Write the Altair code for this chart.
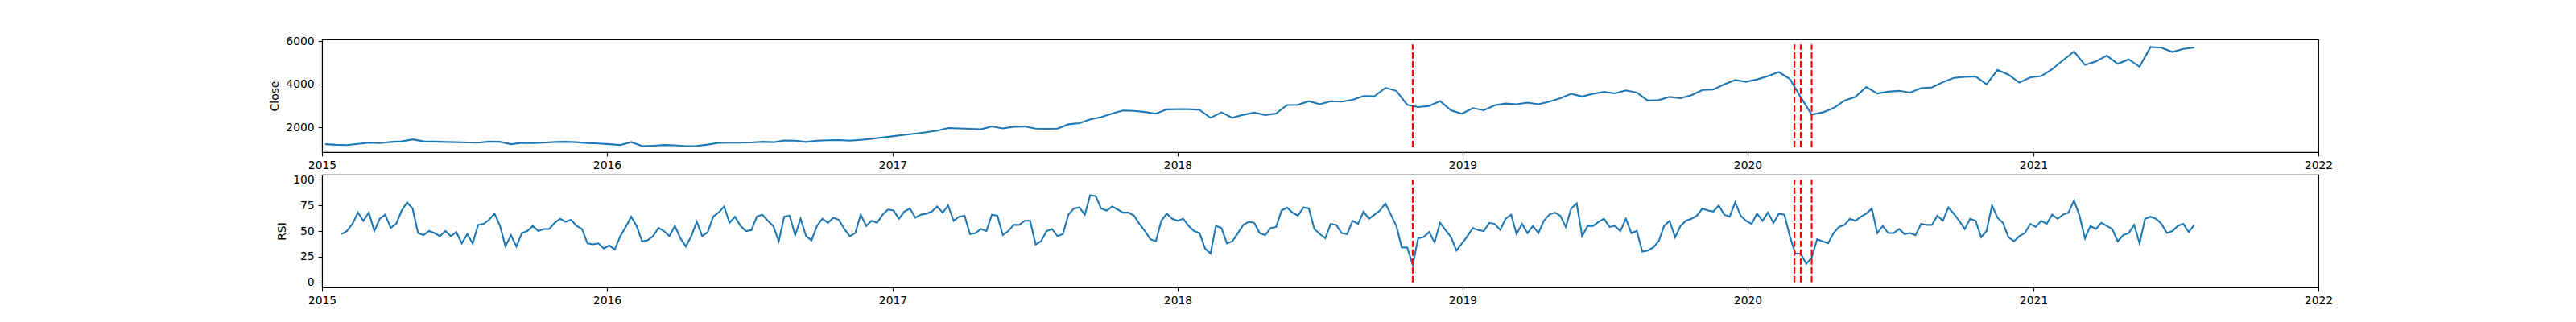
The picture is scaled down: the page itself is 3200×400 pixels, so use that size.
import altair as alt
import pandas as pd

# closing price, every two weeks from 2015-01-05
close_start = "2015-01-05"
close_values = [
    1230, 1200, 1185, 1240, 1300, 1280, 1330, 1360, 1450, 1360, 1350, 1330, 1320, 1310, 1300, 1350,
    1340, 1230, 1290, 1280, 1300, 1330, 1340, 1320, 1280, 1260, 1230, 1190, 1330, 1140, 1160,
    1190, 1175, 1140, 1150, 1210, 1290, 1300, 1300, 1310, 1340, 1320, 1400, 1390, 1330, 1390, 1410,
    1420, 1390, 1430, 1480, 1540, 1600, 1660, 1720, 1780, 1860, 1980, 1960, 1940, 1920, 2050,
    1960, 2040, 2050, 1950, 1940, 1950, 2150, 2200, 2380, 2480, 2650, 2790, 2770, 2720, 2640, 2840,
    2850, 2850, 2820, 2450, 2700, 2450, 2590, 2690, 2580, 2650, 3040, 3050, 3220, 3080, 3220,
    3200, 3280, 3460, 3450, 3840, 3700, 3050, 2950, 3000, 3230, 2800, 2640, 2900, 2800, 3030, 3110,
    3080, 3150, 3080, 3200, 3360, 3560, 3440, 3560, 3650, 3580, 3720, 3620, 3250, 3270, 3420,
    3360, 3500, 3740, 3760, 4000, 4200, 4120, 4230, 4380, 4570, 4250, 3400, 2600, 2700, 2900, 3250,
    3420, 3880, 3580, 3660, 3700, 3620, 3820, 3860, 4100, 4300, 4350, 4370, 4000, 4670, 4450,
    4080, 4330, 4380, 4700, 5120, 5520, 4900, 5060, 5330, 4950, 5160, 4820, 5730, 5700, 5500, 5640,
    5710,
]

# RSI, every week from 2015-01-26
rsi_start = "2015-01-26"
rsi_values = [
    47, 50, 57, 68, 60, 68, 50, 62, 66, 53, 57, 70, 78, 72, 48, 46, 50, 48, 45, 50, 45, 49, 38, 47,
    38, 56, 57, 61, 67, 55, 35, 46, 35, 48, 50, 55, 50, 52, 52, 58, 62, 59, 61, 55, 52, 38, 37, 38,
    33, 36, 32, 45, 54, 64, 55, 40, 41, 45,
    53, 50, 45, 55, 43, 35, 45, 59, 45, 49, 64, 68, 74, 58, 64, 55, 50, 51, 64, 66, 60, 55, 40, 64,
    65, 46, 62, 45, 41, 55, 62, 58, 63, 61, 52, 45, 48, 66, 55, 60, 58, 66, 71, 70, 62, 69, 72, 63,
    66, 67, 69, 74, 68, 75, 60, 64, 65, 47, 48, 52, 50, 66,
    65, 46, 50, 56, 56, 60, 60, 37, 40, 50, 52, 45, 47, 66, 72, 73, 66, 85, 84, 72, 70, 74, 71, 68,
    68, 65, 57, 50, 42, 40, 60, 67, 62, 60, 62, 55, 50, 48, 33, 28, 55, 53, 38, 40, 48, 56, 59, 58,
    48, 46, 53, 54, 70, 73, 68, 65, 73, 72, 52, 47, 43, 57,
    56, 48, 47, 60, 57, 69, 62, 66, 70, 77, 66, 55, 34, 34, 17, 43, 44, 49, 39, 58, 51, 44, 31, 38,
    45, 53, 51, 50, 58, 57, 51, 62, 66, 47, 57, 48, 55, 48, 60, 66, 68, 65, 54, 72, 77, 45, 55, 55,
    59, 62, 54, 55, 50, 62, 48, 50, 30, 31, 34, 40, 55, 60,
    44, 55, 60, 62, 65, 72, 70, 69, 75, 66, 64, 78, 65, 60, 57, 67, 60, 68, 58, 67, 66, 45, 28, 28,
    18, 24, 42, 40, 38, 48, 54, 56, 62, 60, 64, 67, 72, 48, 55, 48, 48, 52, 47, 48, 46, 57, 56, 56,
    65, 60, 73, 67, 60, 52, 62, 60, 44, 50, 75, 63, 58, 44,
    40, 45, 48, 57, 54, 60, 57, 66, 62, 66, 68, 80, 65, 43, 55, 52, 58, 55, 52, 40, 46, 48, 56, 38,
    62, 64, 62, 57, 48, 50, 55, 57, 49, 56,
]

# marked dates (red dashed lines) and the span of those lines in each panel
event_dates = ["2018-10-29", "2020-03-01", "2020-03-09", "2020-03-23"]
close_span = [1095, 5845]
rsi_span = [0, 100]

years = list(range(2015, 2023))
close_ticks = [2000, 4000, 6000]
rsi_ticks = [0, 25, 50, 75, 100]

close_df = pd.DataFrame({
    "date": pd.date_range(close_start, periods=len(close_values), freq="14D"),
    "Close": close_values,
})
rsi_df = pd.DataFrame({
    "date": pd.date_range(rsi_start, periods=len(rsi_values), freq="7D"),
    "RSI": rsi_values,
})
close_events = pd.DataFrame({"date": pd.to_datetime(event_dates),
                             "Close": close_span[0], "Close2": close_span[1]})
rsi_events = pd.DataFrame({"date": pd.to_datetime(event_dates),
                           "RSI": rsi_span[0], "RSI2": rsi_span[1]})

x_enc = alt.X(
    "date:T",
    title=None,
    scale=alt.Scale(domain=[alt.DateTime(year=2015, month=1, date=1),
                            alt.DateTime(year=2022, month=1, date=1)]),
    axis=alt.Axis(values=[alt.DateTime(year=y, month=1, date=1) for y in years],
                  format="%Y", labelFlush=False, labelOverlap=False),
)

blue = "#1f77b4"
lw = 2.1


def y_enc(field, domain, ticks):
    return alt.Y(f"{field}:Q", title=field,
                 scale=alt.Scale(domain=domain, nice=False, zero=False),
                 axis=alt.Axis(values=ticks, format="d", labelFlush=False, labelOverlap=False))


close_line = alt.Chart(close_df).mark_line(color=blue, strokeWidth=lw).encode(
    x=x_enc, y=y_enc("Close", [860, 6080], close_ticks))
close_rules = alt.Chart(close_events).mark_rule(
    color="red", strokeWidth=lw, strokeDash=[7.7, 3.3]).encode(
    x=x_enc, y=y_enc("Close", [860, 6080], close_ticks), y2="Close2:Q")

rsi_line = alt.Chart(rsi_df).mark_line(color=blue, strokeWidth=lw).encode(
    x=x_enc, y=y_enc("RSI", [-5, 105], rsi_ticks))
rsi_rules = alt.Chart(rsi_events).mark_rule(
    color="red", strokeWidth=lw, strokeDash=[7.7, 3.3]).encode(
    x=x_enc, y=y_enc("RSI", [-5, 105], rsi_ticks), y2="RSI2:Q")

top = alt.layer(close_line, close_rules).properties(width=2480, height=140)
bottom = alt.layer(rsi_line, rsi_rules).properties(width=2480, height=140)

chart = alt.vconcat(top, bottom, spacing=28, bounds="flush").properties(
    padding={"left": 326, "top": 35, "right": 5, "bottom": 5}
).configure_view(
    stroke="black", strokeWidth=1.1
).configure_axis(
    grid=False,
    domainColor="black", domainWidth=1.1,
    tickColor="black", tickWidth=1.1, tickSize=4.9,
    labelFont="DejaVu Sans", labelFontSize=13.9, labelColor="black", labelPadding=4.9,
    titleFont="DejaVu Sans", titleFontSize=13.9, titleFontWeight="normal",
    titleColor="black", titlePadding=6,
)

chart.save("out.html", embed_options={"renderer": "svg", "actions": False})
